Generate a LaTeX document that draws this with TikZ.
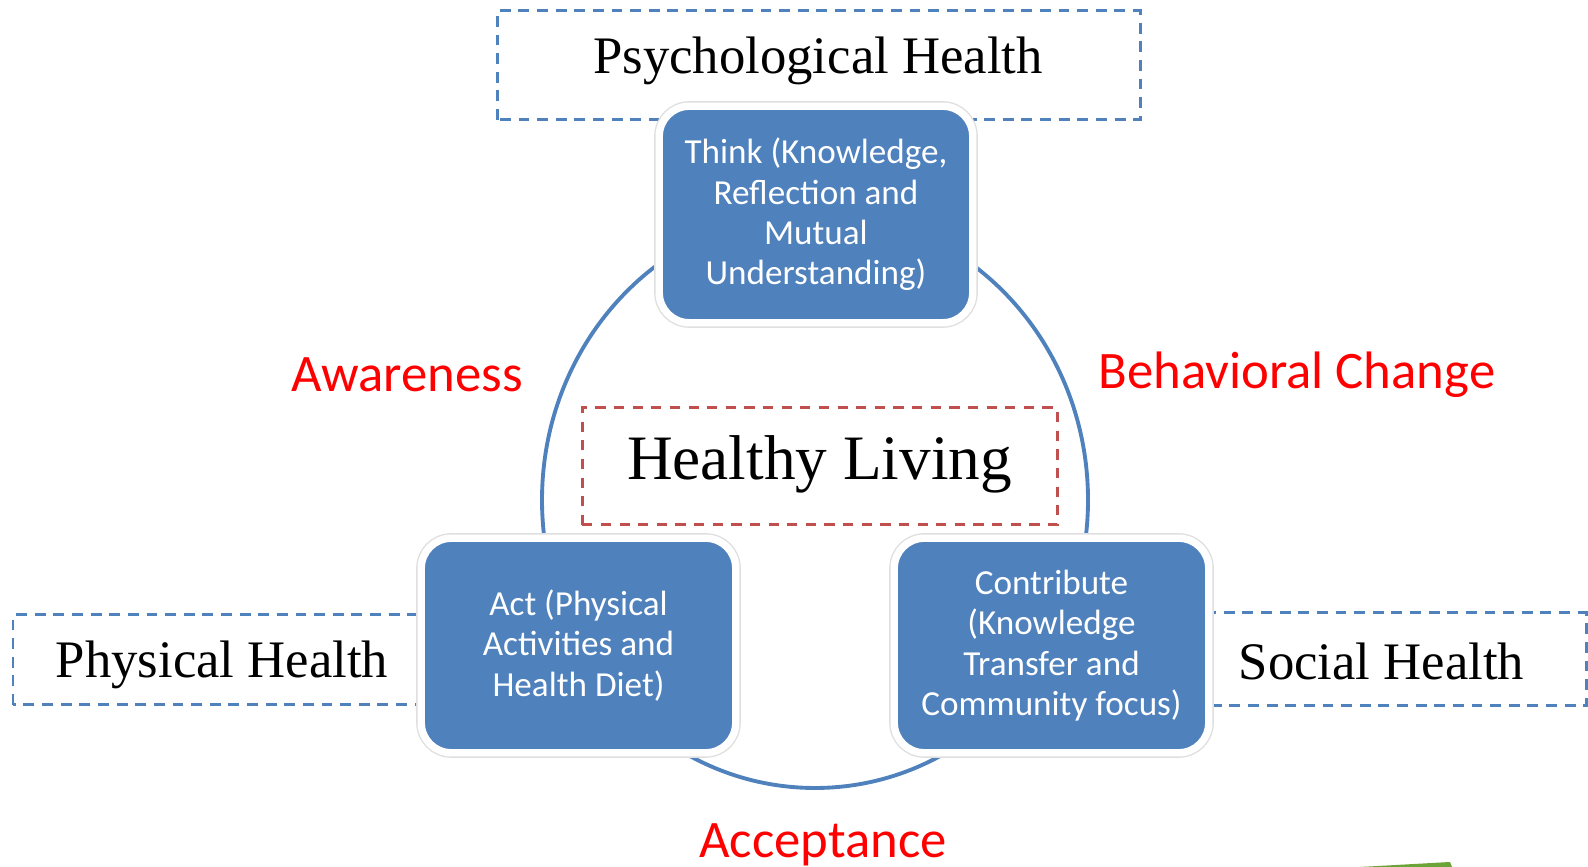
\documentclass[tikz,border=0pt]{standalone}
\usepackage{fontspec}
\setmainfont{Liberation Serif}
\newfontfamily\calibri{Carlito}
\definecolor{boxblue}{RGB}{79,129,189}
\definecolor{dashred}{RGB}{192,80,77}
\definecolor{leafgreen}{RGB}{106,163,54}
\def\healthring{(8.15,3.67) ellipse (2.73cm and 2.88cm)}

\begin{document}
\begin{tikzpicture}[
  stage/.style={rectangle, rounded corners=0.3cm, fill=boxblue, draw=white, line width=2.1pt,
    preaction={draw=gray!25, line width=2.9pt}, text=white, align=center, inner sep=0pt,
    font=\calibri\fontsize{10}{11.5}\selectfont, minimum width=3.145cm, minimum height=2.145cm},
  area/.style={draw=boxblue, line width=0.85pt, dash pattern=on 3.1pt off 2.2pt},
  areatext/.style={font=\fontsize{15}{18}\selectfont},
  cue/.style={text=red, font=\calibri\fontsize{15}{18}\selectfont}]
  \useasboundingbox (0,0) rectangle (15.88,8.67);
  \draw[boxblue, line width=1.1pt] \healthring;
  % the four dashed areas
  \draw[area] (4.97,7.47) rectangle (11.40,8.56);
  \draw[area] (0.13,1.62) rectangle (4.18,2.52);
  \draw[area] (12.05,1.61) rectangle (15.86,2.54);
  \draw[area, draw=dashred, dash pattern=on 2.9pt off 2.4pt] (5.82,3.42) rectangle (10.57,4.59);
  \node[areatext] (psych) at (8.18,8.065) {Psychological Health};
  \node[areatext] (physical) at (2.22,2.02) {Physical Health};
  \node[areatext] (social) at (13.815,2.06) {Social Health};
  \node[font=\fontsize{18}{22}\selectfont] (living) at (8.195,4.025) {Healthy Living};
  % blue stages on the ring
  \node[stage, minimum width=3.135cm, minimum height=2.165cm] (think) at (8.16,6.525)
        {Think (Knowledge,\\Reflection and\\Mutual\\Understanding)};
  \node[stage] (act) at (5.785,2.215) {Act (Physical\\Activities and\\Health Diet)};
  \node[stage] (contribute) at (10.515,2.215) {Contribute\\(Knowledge\\Transfer and\\Community focus)};
  \node[cue] (aware) at (4.07,4.92) {Awareness};
  \node[cue] (change) at (12.97,4.92) {Behavioral Change};
  \node[cue] (accept) at (8.23,0.22) {Acceptance};
  \fill[leafgreen] (13.6,0) -- (14.5,0.05) -- (14.52,0) -- cycle;
\end{tikzpicture}
\end{document}
